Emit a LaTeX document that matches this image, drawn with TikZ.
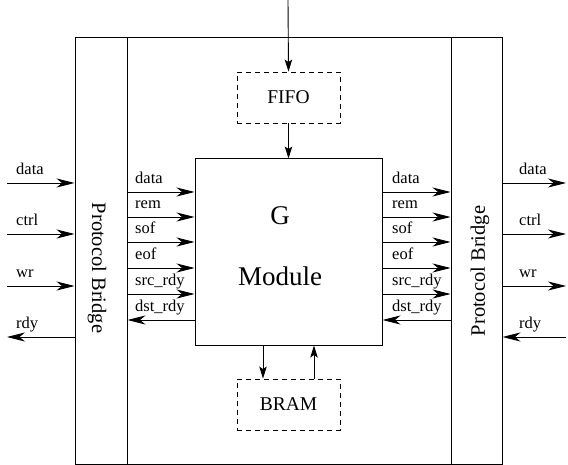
\documentclass[tikz,border=0pt]{standalone}
\usepackage{fontspec}
\setmainfont{Liberation Serif}
\newfontfamily\tms{Liberation Serif}
\usetikzlibrary{arrows.meta,calc}
\tikzset{
  sig/.style={-{Stealth[length=18pt,width=9pt,inset=5.5pt]}, line width=0.9pt},
  vsig/.style={-{Stealth[length=12pt,width=7.5pt,inset=2.5pt]}, line width=0.9pt},
  blk/.style={draw, line width=1pt, inner sep=0pt, rectangle},
  dblk/.style={draw, line width=0.9pt, dash pattern=on 5pt off 4pt, inner sep=0pt, rectangle,
    minimum width=103pt, minimum height=51pt, font=\tms\fontsize{19.5}{22}\selectfont},
  lbl/.style={anchor=base west, inner sep=0pt, font=\tms\fontsize{16.5}{18}\selectfont},
  bridge/.style={inner sep=0pt, font=\tms\fontsize{20.5}{22}\selectfont},
  big/.style={anchor=base, inner sep=0pt, font=\tms\fontsize{27}{30}\selectfont},
}
\begin{document}
\begin{tikzpicture}[x=1pt,y=-1pt]
\useasboundingbox (0,0) rectangle (568,465);

% enclosing frame and the two protocol bridges
\node[blk, minimum width=427pt, minimum height=426pt] (frame) at (288.5,251) {};
\node[blk, minimum width=52pt, minimum height=426pt] (lpb) at (101,251) {};
\node[blk, minimum width=51pt, minimum height=426pt] (rpb) at (476.5,251) {};
\node[bridge, rotate=-90] (lpbtxt) at (97,268) {Protocol Bridge};
\node[bridge, rotate=90] (rpbtxt) at (480,271) {Protocol Bridge};

% core module
\node[blk, minimum width=187pt, minimum height=186pt] (mod) at (288.5,252) {};
\node[big] (gtxt) at (280,225) {G};
\node[big] (modtxt) at (280,286) {Module};

% buffers
\node[dblk] (fifo) at (288.5,97.5) {FIFO};
\node[dblk] (bram) at (288.5,404.5) {BRAM};

% vertical data path
\coordinate (src) at (288,0);
\coordinate (bdn) at (263,0);
\coordinate (bup) at (314,0);
\draw[vsig] (src) -- (fifo.north);
\draw[vsig] (fifo.south) -- (mod.north);
\draw[vsig] (bdn |- mod.south) -- (bdn |- bram.north);
\draw[vsig] (bup |- bram.north) -- (bup |- mod.south);

% external ports
\coordinate (lout) at (7,0);
\coordinate (rout) at (566,0);
\foreach \n/\y/\t in {1/183/data, 2/234/ctrl, 3/286/wr}{
  \coordinate (xr\n) at (0,\y);
  \draw[sig] (xr\n -| lout) -- (xr\n -| lpb.west);
  \draw[sig] (xr\n -| rpb.east) -- (xr\n -| rout);
  \node[lbl] (xl\n) at (16,\y-8) {\t};
  \node[lbl] (xrl\n) at (519,\y-8) {\t};
}
\coordinate (xr4) at (0,337);
\draw[sig] (xr4 -| lpb.west) -- (xr4 -| lout);
\draw[sig] (xr4 -| rout) -- (xr4 -| rpb.east);
\node[lbl] (xl4) at (16,329) {rdy};
\node[lbl] (xrl4) at (519,329) {rdy};

% internal interface between bridges and module
\foreach \n/\y/\t in {1/192/data, 2/217/rem, 3/242/sof, 4/268/eof, 5/294/src\_rdy}{
  \coordinate (ir\n) at (0,\y);
  \draw[sig] (ir\n -| lpb.east) -- (ir\n -| mod.west);
  \draw[sig] (ir\n -| mod.east) -- (ir\n -| rpb.west);
  \node[lbl] (il\n) at (135,\y-8) {\t};
  \node[lbl] (irl\n) at (392,\y-8) {\t};
}
\coordinate (ir6) at (0,320);
\draw[sig] (ir6 -| mod.west) -- (ir6 -| lpb.east);
\draw[sig] (ir6 -| rpb.west) -- (ir6 -| mod.east);
\node[lbl] (il6) at (135,312) {dst\_rdy};
\node[lbl] (irl6) at (392,312) {dst\_rdy};
\end{tikzpicture}
\end{document}
